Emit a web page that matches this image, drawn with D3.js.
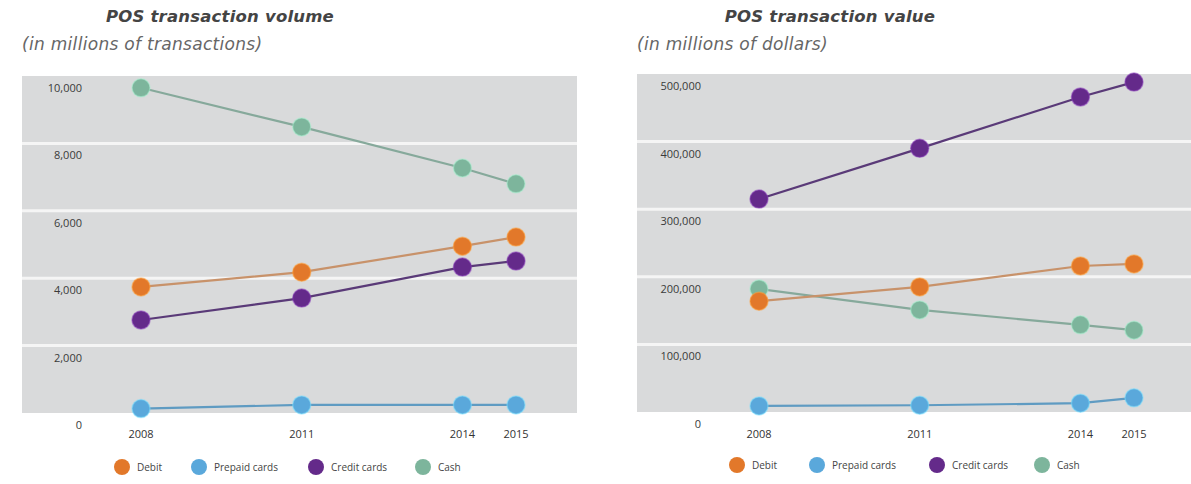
<!DOCTYPE html>
<html>
<head>
<meta charset="utf-8">
<script src="https://cdn.jsdelivr.net/npm/d3@7"></script>
<style>
  html, body { margin: 0; padding: 0; background: #ffffff; }
  svg { display: block; font-family: "Open Sans", "DejaVu Sans", sans-serif; }
</style>
</head>
<body>
<svg id="chart" width="1191" height="484"></svg>
<script>
// ---------- data ----------
const years = [2008, 2011, 2014, 2015];
const seriesNames = ["Debit", "Prepaid cards", "Credit cards", "Cash"];

// POS transaction volume (millions of transactions)
const volumeDebit   = [3740, 4180, 4950, 5220];
const volumePrepaid = [130, 240, 240, 240];
const volumeCredit  = [2760, 3410, 4330, 4510];
const volumeCash    = [9650, 8490, 7270, 6800];
const volumeTicks   = [0, 2000, 4000, 6000, 8000, 10000];

// POS transaction value (millions of dollars)
const valueDebit   = [164000, 185000, 216000, 219000];
const valuePrepaid = [9000, 10000, 13000, 21000];
const valueCredit  = [315000, 390000, 466000, 488000];
const valueCash    = [182000, 151000, 129000, 121000];
const valueTicks   = [0, 100000, 200000, 300000, 400000, 500000];

const colors = ["#e2782a", "#5aa8db", "#642a8a", "#7db59c"];
const lineColors = ["#c8926a", "#5f9bc2", "#5a3a78", "#86a99b"];

// ---------- drawing ----------
const svg = d3.select("#chart");
const fmt = d3.format(",");

function drawPanel(p) {
  const g = svg.append("g");
  const x = d3.scaleLinear().domain([2008, 2015]).range([p.x0, p.x1]);
  const y = d3.scaleLinear().domain([0, p.max]).range([p.bottom, p.top]);

  // titles
  g.append("text").attr("x", p.titleX).attr("y", 22)
    .attr("text-anchor", "middle")
    .attr("font-family", "'DejaVu Sans', sans-serif")
    .attr("font-size", 16.5).attr("font-weight", 700).attr("font-style", "italic")
    .attr("letter-spacing", 0.2)
    .attr("fill", "#444444").text(p.title);
  g.append("text").attr("x", p.left).attr("y", 50)
    .attr("font-family", "'DejaVu Sans', sans-serif")
    .attr("font-size", 17).attr("font-style", "italic")
    .attr("letter-spacing", 0.3)
    .attr("fill", "#666666").text(p.subtitle);

  // background
  g.append("rect").attr("x", p.left).attr("y", y(p.max))
    .attr("width", p.right - p.left).attr("height", y(0) - y(p.max))
    .attr("fill", "#d9dadb");

  // white grid lines
  g.selectAll(".grid").data(p.ticks.filter(t => t > 0 && t < p.max)).join("line")
    .attr("x1", p.left).attr("x2", p.right)
    .attr("y1", d => y(d)).attr("y2", d => y(d))
    .attr("stroke", "#f5f5f5").attr("stroke-width", 3);

  // y tick labels (sit just under each grid line)
  g.selectAll(".ylab").data(p.ticks).join("text")
    .attr("x", p.labelX).attr("y", d => y(d) + 16)
    .attr("text-anchor", "end")
    .attr("font-size", 11).attr("fill", "#3a3a3a")
    .text(d => fmt(d));

  // x labels
  g.selectAll(".xlab").data(years).join("text")
    .attr("x", d => x(d)).attr("y", 438)
    .attr("text-anchor", "middle")
    .attr("font-size", 11).attr("fill", "#333")
    .text(d => d);

  const line = d3.line().x((d, i) => x(years[i])).y(d => y(d));
  const order = [3, 0, 2, 1];
  order.forEach(si => {
    const vals = p.series[si];
    g.append("path").datum(vals).attr("d", line)
      .attr("fill", "none").attr("stroke", lineColors[si]).attr("stroke-width", 2.2);
  });
  order.forEach(si => {
    const vals = p.series[si];
    g.selectAll(null).data(vals).join("circle")
      .attr("cx", (d, i) => x(years[i])).attr("cy", d => y(d))
      .attr("r", 9).attr("fill", colors[si])
      .attr("stroke", d3.color(colors[si]).brighter(0.8)).attr("stroke-opacity", 0.5)
      .attr("stroke-width", 1.5);
  });

  // legend
  const lg = g.append("g");
  seriesNames.forEach((name, i) => {
    lg.append("circle").attr("cx", p.legendX[i]).attr("cy", p.legendY)
      .attr("r", 8).attr("fill", colors[i]);
    lg.append("text").attr("x", p.legendX[i] + 15).attr("y", p.legendY + 3.5)
      .attr("font-size", 10).attr("fill", "#444").text(name);
  });
}

drawPanel({
  title: "POS transaction volume", subtitle: "(in millions of transactions)",
  titleX: 220, left: 22, right: 577, top: 76, bottom: 413,
  x0: 141, x1: 516, labelX: 82, max: 10000, ticks: volumeTicks,
  series: [volumeDebit, volumePrepaid, volumeCredit, volumeCash],
  legendX: [122, 199, 316, 423], legendY: 467
});

drawPanel({
  title: "POS transaction value", subtitle: "(in millions of dollars)",
  titleX: 830, left: 637, right: 1191, top: 74, bottom: 412,
  x0: 759, x1: 1134, labelX: 701, max: 500000, ticks: valueTicks,
  series: [valueDebit, valuePrepaid, valueCredit, valueCash],
  legendX: [737, 817, 937, 1042], legendY: 465
});
</script>
</body>
</html>
